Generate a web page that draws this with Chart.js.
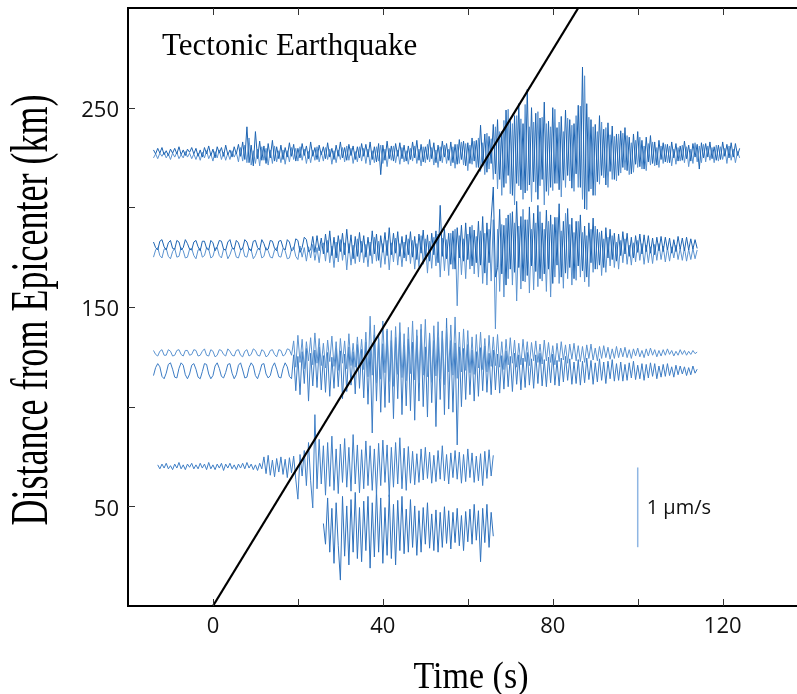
<!DOCTYPE html>
<html>
<head>
<meta charset="utf-8">
<script src="https://cdn.jsdelivr.net/npm/chart.js@4.4.1/dist/chart.umd.min.js"></script>
<style>
  html, body { margin: 0; padding: 0; background: #fff; }
  canvas { display: block; }
</style>
</head>
<body>
<canvas id="quake" width="797" height="694"></canvas>
<script>
// seismograms: ground velocity in 1/100 µm/s, one sample every 0.5 s
const STEP = 0.5;
const KM_PER_UMS = 40;      // 1 µm/s is drawn as 40 km on the distance axis

const traceStart = [-14, -14, -14, -14, -14, -14, -13, 26];
const traceDist  = [228, 226, 181, 177, 127, 118, 70, 39];

const trace1a = [
  2,-3,4,-2,5,-4,1,-5,3,-2,4,-3,6,-4,2,-5,3,-1,5,-3,
  4,-6,2,-7,5,-3,7,-5,3,-8,6,-2,5,-6,8,-4,2,-7,6,-3,
  9,-6,12,-10,31,-14,8,-18,25,-9,13,-11,7,-15,10,-8,14,-12,6,-9,
  8,-10,5,-7,11,-6,9,-12,4,-8,10,-5,7,-9,12,-6,5,-10,8,-4,
  6,-9,11,-7,4,-10,8,-6,12,-8,5,-11,9,-5,7,-10,6,-8,10,-6,
  9,-7,12,-10,6,-13,10,-29,8,-11,13,-9,7,-12,10,-6,11,-9,8,-12,
  7,-10,12,-8,14,-11,9,-13,6,-10,15,-9,11,-14,8,-12,13,-7,10,-11,
  12,-14,9,-16,15,-10,13,-18,11,-15,17,-12,14,-20,33,-18,22,-26,19,-15,
  34,-28,40,-35,25,-45,52,-30,38,-55,45,-40,60,-48,35,-52,78,-42,55,-38,
  48,-60,42,-35,62,-50,38,-45,55,-40,30,-48,44,-36,52,-30,40,-46,35,-28,
  58,-45,106,-72,60,-50,40,-55,34,-38,45,-30,28,-42,36,-25,32,-35,22,-30,
  26,-20,30,-24,18,-28,22,-16,25,-19,14,-22,18,-13,20,-15,12,-17,14,-10,
  11,-13,9,-14,12,-8,10,-12,7,-11,13,-9,8,-12,10,-7,9,-22,11,-8,
  10,-7,12,-9,6,-11,8,-10,12,-6,9,-8,11,-7,10,-5,4
];
const trace1b = [
  -3,2,-4,3,-1,4,-3,2,-5,3,-2,4,-4,1,-3,5,-2,3,-4,2,
  -5,3,-6,4,-3,6,-4,2,-7,5,-3,7,-5,4,-6,3,-5,6,-2,4,
  -8,10,-7,13,-9,22,-12,6,-10,8,-13,11,-6,9,-12,7,-10,12,-8,6,
  -9,7,-11,6,-8,10,-5,9,-7,11,-6,8,-10,5,-9,7,-6,11,-8,5,
  -7,10,-5,8,-11,6,-9,7,-5,10,-8,12,-6,9,-10,5,-8,11,-7,9,
  -10,8,-12,6,-9,11,-7,13,-10,8,-14,9,-6,12,-9,7,-11,10,-8,6,
  -11,9,-7,12,-10,8,-13,11,-9,14,-8,10,-12,7,-15,11,-9,13,-10,8,
  -13,11,-16,14,-10,17,-12,15,-19,13,-11,18,-15,22,-20,16,-24,28,-17,21,
  -30,36,-42,30,-50,44,-35,58,-48,40,-62,50,-38,46,-55,64,-44,36,-58,42,
  -46,55,-38,48,-62,40,-50,36,-44,58,-35,42,-52,30,-40,47,-32,38,-45,50,
  -40,62,-55,100,-68,48,-42,36,-50,30,-36,42,-28,35,-40,26,-30,24,-32,27,
  -22,28,-18,25,-24,16,-21,19,-15,23,-17,12,-19,15,-12,17,-13,10,-15,12,
  -10,14,-9,12,-13,8,-11,10,-7,13,-9,11,-14,8,-10,16,-8,12,-9,14,
  -8,12,-6,10,-9,13,-7,11,-5,9,-10,12,-6,8,-9,5,-3
];

const trace2a = [
  4,-3,-6,5,7,-2,-6,3,6,-4,-5,6,4,-6,-3,7,2,-5,-6,4,
  6,-2,-7,5,5,-4,-6,6,3,-7,-2,6,5,-5,-6,4,7,-3,-5,6,
  3,-6,-4,7,4,-5,-7,5,6,-3,-6,7,2,-6,-5,6,5,-4,-7,5,
  6,-3,-6,7,4,-7,-5,8,6,-9,-3,10,7,-8,-6,11,-9,12,-7,9,
  -11,14,-9,18,-13,10,-16,12,-8,15,-12,20,-10,13,-17,11,-14,16,-9,12,
  -15,10,-13,18,-11,14,-19,12,-9,16,-13,22,-12,15,-10,17,-14,11,-16,13,
  -12,17,-15,11,-18,14,-10,19,-16,13,-20,15,-12,18,-22,50,-14,20,-17,15,
  -24,18,-30,22,-16,25,-20,28,-18,23,-26,19,-22,30,-25,36,-35,28,-22,33,
  73,-40,-28,45,-36,25,-50,38,-30,42,-34,55,-28,36,-45,32,-38,48,-26,40,
  -33,50,-42,28,-36,44,-30,38,-48,35,-25,52,-40,30,-35,46,-28,34,-42,30,
  -26,38,-32,24,-40,28,-22,34,-30,20,-25,18,-28,22,-16,20,-18,15,-20,14,
  -13,17,-11,15,-14,10,-16,12,-9,14,-11,13,-8,12,-10,9,-12,10,-7,11,
  -8,10,-6,9,-10,7,-8,11,-5,9,-7,10,-6,8,-5,7,-4
];
const trace2b = [
  -5,4,7,-3,-6,5,6,-4,-7,2,6,-5,-4,7,3,-6,-5,5,6,-3,
  -7,4,6,-5,-3,7,5,-6,-4,6,7,-3,-6,5,4,-7,-2,6,5,-5,
  -6,3,7,-4,-5,6,4,-7,-3,5,6,-6,-4,7,3,-5,-6,4,7,-4,
  -5,6,3,-7,-6,5,8,-4,-8,9,-5,7,-10,8,-6,11,-9,7,-12,10,
  13,-10,16,-12,9,-18,14,-11,17,-9,13,-21,12,-15,10,-13,18,-11,15,-12,
  11,-17,14,-13,20,-10,15,-18,12,-14,16,-21,13,-11,19,-15,12,-17,14,-10,
  18,-13,16,-20,12,-17,22,-14,18,-25,15,-19,20,-16,24,-30,19,-22,17,-28,
  25,-20,30,-66,22,-27,18,-32,24,-20,35,-26,21,-30,28,-38,25,-40,30,-35,
  42,-95,30,-48,36,-55,44,-32,50,-40,38,-60,34,-45,55,-36,42,-50,30,-46,
  38,-42,52,-35,30,-48,40,-55,36,-30,45,-38,28,-44,50,-32,36,-40,26,-34,
  40,-30,26,-36,22,-42,30,-24,34,-20,26,-28,18,-24,20,-16,22,-18,14,-20,
  16,-12,18,-14,10,-15,13,-11,16,-9,12,-14,10,-12,8,-13,11,-9,12,-8,
  9,-11,7,-10,8,-6,10,-8,6,-9,7,-10,5,-8,6,-7,4
];

const trace3a = [
  3,-2,-4,2,4,-3,-3,4,2,-4,-3,3,4,-2,-4,3,3,-3,-2,4,
  3,-4,-3,2,5,-3,-4,4,2,-5,-3,4,3,-2,-4,5,2,-3,-4,3,
  4,-3,-5,2,4,-4,-2,5,3,-3,-4,4,2,-5,-3,3,4,-2,-5,4,
  3,-4,-2,5,4,-3,15,-18,22,-12,17,-20,14,-10,19,-15,25,-13,18,-16,
  12,-19,16,-11,21,-17,14,-22,18,-13,15,-20,24,-16,12,-18,20,-14,17,-21,
  26,-30,46,-28,35,-38,22,-33,40,-25,30,-36,28,-42,33,-27,38,-31,24,-35,
  32,-26,40,-34,29,-38,36,-28,42,-30,25,-37,34,-29,39,-33,27,-40,31,-24,
  35,-28,45,-32,26,-24,30,-22,28,-25,20,-27,23,-19,26,-21,18,-24,22,-17,
  20,-16,23,-18,14,-21,17,-15,19,-13,16,-18,12,-15,17,-11,14,-16,13,-10,
  15,-12,11,-14,16,-10,13,-12,9,-15,12,-11,14,-9,10,-13,11,-8,12,-10,
  9,-11,8,-12,10,-7,11,-9,6,-10,8,-7,9,-6,7,-8,5,-7,8,-6,
  6,-5,7,-6,4,-7,5,-4,6,-5,3,-6,5,-4,6,-3,4,-5,3,-4,
  4,-3,5,-2,3,-4,2,-3,4,-2,3,-3,2,-2,3,-1,1
];
const trace3b = [
  -6,4,9,5,-7,-10,-3,8,10,2,-8,-9,3,10,7,-5,-10,-4,7,9,
  2,-8,-10,-1,9,8,-4,-10,-6,6,10,3,-7,-9,-2,8,9,-3,-10,-5,
  7,10,1,-9,-8,4,10,6,-6,-10,-2,8,9,-4,-9,-6,5,10,2,-8,
  -9,3,10,5,-7,-10,20,-25,18,-30,24,-16,28,-38,22,-19,26,-21,30,-24,
  19,-27,23,-32,17,-22,28,-20,25,-35,21,-26,30,-18,24,-29,33,-22,27,-34,
  36,-42,30,-78,45,-38,40,-52,34,-46,50,-40,38,-60,42,-35,48,-55,32,-44,
  40,-50,36,-62,44,-38,52,-45,30,-58,46,-40,38,-70,42,-36,50,-55,66,-48,
  38,-52,35,-93,30,-45,28,-36,33,-30,26,-38,24,-32,29,-25,31,-27,22,-30,
  26,-24,21,-28,19,-23,25,-20,18,-26,22,-17,20,-24,16,-21,23,-18,15,-22,
  20,-16,22,-19,14,-20,17,-15,21,-18,13,-19,16,-14,18,-12,15,-17,11,-16,
  14,-18,12,-15,16,-11,13,-17,10,-14,15,-12,11,-16,12,-10,14,-13,9,-12,
  11,-13,8,-12,10,-9,12,-11,7,-10,9,-12,8,-9,10,-7,9,-10,6,-8,
  8,-7,9,-6,5,-8,7,-5,6,-4,5,-6,4,-5,6,-3,2
];

const trace4 = [
  2,-3,3,-2,4,-3,1,-4,3,-2,5,-3,2,-4,3,-1,4,-3,2,-3,
  4,-2,3,-4,5,-3,2,-4,3,-2,4,-5,3,-2,4,-3,2,-4,3,-2,
  4,-3,5,-2,3,-4,2,-5,4,-3,12,-9,14,-11,8,-13,10,-7,12,-10,
  9,-14,11,-8,13,-16,-41,15,-12,20,-24,30,-18,-52,65,-28,34,-22,26,-36,
  30,-25,38,-30,22,-34,28,-20,35,-26,24,-31,40,-22,27,-33,21,-28,32,-24,
  26,-30,22,-35,29,-24,33,-20,27,-38,24,-26,30,-22,36,-28,23,-30,25,-21,
  19,-23,16,-20,22,-17,24,-15,18,-21,14,-19,20,-16,26,-18,15,-22,17,-14,
  20,-16,18,-21,15,-19,22,-14,17,-20,13,-18,16,-24,19,-15,21,-12,14
];

const trace5 = [
  6,-20,38,-30,25,-44,32,-22,-65,40,-35,28,-46,36,-30,45,-38,26,-42,34,
  -28,40,-50,32,-36,48,-30,38,-44,26,-34,42,-38,30,-46,35,-28,40,-32,24,
  -30,36,-24,28,-34,22,-30,26,-20,32,-25,18,-28,23,-30,20,-24,27,-19,22,
  -26,20,-18,25,-22,16,-28,21,-17,24,-20,30,-15,22,-42,25,-18,30,-24,20,
  -10
];

const traceAmps = [trace1a, trace1b, trace2a, trace2b, trace3a, trace3b, trace4, trace5];
const traceColors = ['#1d64b2', '#5b93d0', '#1d64b2', '#5b93d0', '#5b93d0', '#3c7cc4', '#3f7fc6', '#2f72bd'];

// P-wave travel-time line
const moveoutTime = [0, 86];
const moveoutDist = [0, 300];

// 1 µm/s scale bar
const scaleBarTime = 100;
const scaleBarBase = 29.5;

const xTickMarks = [0, 20, 40, 60, 80, 100, 120];
const xTickLabels = [0, 40, 80, 120];
const yTickMarks = [50, 100, 150, 200, 250];
const yTickLabels = [50, 150, 250];

function buildTrace(k) {
  return traceAmps[k].map((a, i) => ({
    x: traceStart[k] + i * STEP,
    y: traceDist[k] + a / 100 * KM_PER_UMS
  }));
}

const datasets = [{
  data: moveoutTime.map((t, i) => ({ x: t, y: moveoutDist[i] })),
  borderColor: '#000',
  borderWidth: 2.2,
  order: 0
}, {
  data: [{ x: scaleBarTime, y: scaleBarBase }, { x: scaleBarTime, y: scaleBarBase + KM_PER_UMS }],
  borderColor: '#8fb6e3',
  borderWidth: 1.5,
  order: 1
}];
traceAmps.forEach((_, k) => {
  datasets.push({
    data: buildTrace(k),
    borderColor: traceColors[k],
    borderWidth: 1,
    order: 2 + k
  });
});

// frame, inward ticks, labels and titles
const framePlugin = {
  id: 'frame',
  afterDraw(chart) {
    const ctx = chart.ctx;
    const a = chart.chartArea;
    const xs = chart.scales.x, ys = chart.scales.y;
    ctx.save();
    ctx.strokeStyle = '#000';
    ctx.lineWidth = 2;
    ctx.beginPath();
    ctx.moveTo(a.right + 2, a.top);
    ctx.lineTo(a.left, a.top);
    ctx.lineTo(a.left, a.bottom);
    ctx.lineTo(a.right + 2, a.bottom);
    ctx.stroke();

    ctx.lineWidth = 1;
    ctx.strokeStyle = '#333';
    ctx.beginPath();
    xTickMarks.forEach(v => {
      const px = Math.round(xs.getPixelForValue(v)) + 0.5;
      ctx.moveTo(px, a.bottom); ctx.lineTo(px, a.bottom - 7);
      ctx.moveTo(px, a.top); ctx.lineTo(px, a.top + 7);
    });
    yTickMarks.forEach(v => {
      const py = Math.round(ys.getPixelForValue(v)) + 0.5;
      ctx.moveTo(a.left, py); ctx.lineTo(a.left + 7, py);
    });
    ctx.stroke();

    ctx.fillStyle = '#111';
    ctx.font = '22px "Open Sans", sans-serif';
    ctx.textAlign = 'center';
    ctx.textBaseline = 'middle';
    xTickLabels.forEach(v => ctx.fillText(String(v), xs.getPixelForValue(v), a.bottom + 21));
    ctx.textAlign = 'right';
    yTickLabels.forEach(v => ctx.fillText(String(v), a.left - 9, ys.getPixelForValue(v) + 3));

    ctx.font = '20px "Open Sans", sans-serif';
    ctx.textAlign = 'left';
    ctx.fillText('1 \u00b5m/s', xs.getPixelForValue(scaleBarTime) + 9, ys.getPixelForValue(scaleBarBase + KM_PER_UMS / 2) + 1);

    ctx.fillStyle = '#000';
    ctx.textBaseline = 'alphabetic';
    ctx.font = '31px "Liberation Serif", "Times New Roman", serif';
    ctx.fillText('Tectonic Earthquake', 162, 55);

    ctx.save();
    ctx.translate(471, 688);
    ctx.scale(1, 1.1);
    ctx.textAlign = 'center';
    ctx.font = '34px "Liberation Serif", "Times New Roman", serif';
    ctx.fillText('Time (s)', 0, 0);
    ctx.restore();

    ctx.save();
    ctx.translate(47, 310);
    ctx.rotate(-Math.PI / 2);
    ctx.scale(1, 1.45);
    ctx.textAlign = 'center';
    ctx.font = '36px "Liberation Serif", "Times New Roman", serif';
    ctx.fillText('Distance from Epicenter (km)', 0, 0);
    ctx.restore();
    ctx.restore();
  }
};

new Chart(document.getElementById('quake'), {
  type: 'line',
  data: { datasets },
  options: {
    responsive: false,
    animation: false,
    layout: { padding: { left: 128, right: 0, top: 8, bottom: 88 } },
    elements: { point: { radius: 0 }, line: { tension: 0 } },
    plugins: { legend: { display: false }, tooltip: { enabled: false } },
    scales: {
      x: { type: 'linear', min: -20, max: 137.5, display: false },
      y: { type: 'linear', min: 0, max: 300, display: false }
    }
  },
  plugins: [framePlugin]
});
</script>
</body>
</html>
